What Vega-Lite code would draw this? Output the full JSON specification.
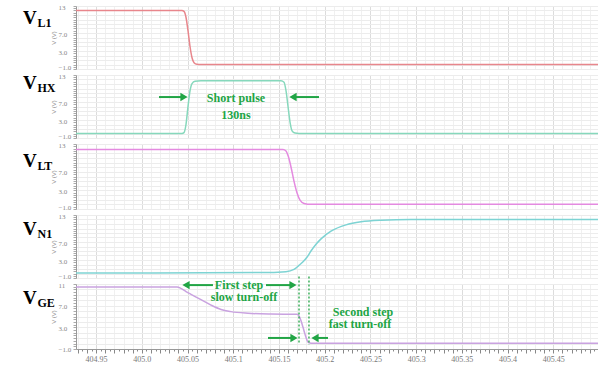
{
  "$schema": "https://vega.github.io/schema/vega-lite/v6.json",
  "padding": {"left": 22, "top": 3, "right": 0, "bottom": 0},
  "bounds": "flush",
  "spacing": 6,
  "background": "white",
  "config": {"view": {"stroke": null}},
  "resolve": {"scale": {"y": "independent"}, "axis": {"x": "independent", "y": "independent"}},
  "datasets": {
    "traces": [
      {"s": "VL1", "t": 404.928, "v": 12}, {"s": "VL1", "t": 405.0439, "v": 12}, {"s": "VL1", "t": 405.0461, "v": 11.8}, {"s": "VL1", "t": 405.0483, "v": 10.5}, {"s": "VL1", "t": 405.0505, "v": 7.5}, {"s": "VL1", "t": 405.0527, "v": 4.0}, {"s": "VL1", "t": 405.0549, "v": 1.5}, {"s": "VL1", "t": 405.0571, "v": 0.4}, {"s": "VL1", "t": 405.0603, "v": 0.05}, {"s": "VL1", "t": 405.0647, "v": 0}, {"s": "VL1", "t": 405.5, "v": 0},
      {"s": "VHX", "t": 404.928, "v": 0}, {"s": "VHX", "t": 405.0439, "v": 0}, {"s": "VHX", "t": 405.0461, "v": 0.2}, {"s": "VHX", "t": 405.0483, "v": 2}, {"s": "VHX", "t": 405.0505, "v": 6}, {"s": "VHX", "t": 405.0527, "v": 9.5}, {"s": "VHX", "t": 405.0549, "v": 11.1}, {"s": "VHX", "t": 405.0582, "v": 11.6}, {"s": "VHX", "t": 405.0647, "v": 11.7}, {"s": "VHX", "t": 405.1522, "v": 11.7}, {"s": "VHX", "t": 405.1555, "v": 11.4}, {"s": "VHX", "t": 405.1577, "v": 9.5}, {"s": "VHX", "t": 405.1599, "v": 6}, {"s": "VHX", "t": 405.1621, "v": 2.5}, {"s": "VHX", "t": 405.1643, "v": 0.6}, {"s": "VHX", "t": 405.1675, "v": 0.1}, {"s": "VHX", "t": 405.1719, "v": 0}, {"s": "VHX", "t": 405.5, "v": 0},
      {"s": "VLT", "t": 404.928, "v": 11.8}, {"s": "VLT", "t": 405.1544, "v": 11.8}, {"s": "VLT", "t": 405.1577, "v": 11.5}, {"s": "VLT", "t": 405.1599, "v": 10.5}, {"s": "VLT", "t": 405.1632, "v": 8}, {"s": "VLT", "t": 405.1664, "v": 5}, {"s": "VLT", "t": 405.1697, "v": 2.5}, {"s": "VLT", "t": 405.173, "v": 0.9}, {"s": "VLT", "t": 405.1774, "v": 0.2}, {"s": "VLT", "t": 405.185, "v": 0}, {"s": "VLT", "t": 405.5, "v": 0},
      {"s": "VN1", "t": 404.928, "v": 0.1}, {"s": "VN1", "t": 405.1303, "v": 0.2}, {"s": "VN1", "t": 405.1576, "v": 0.4}, {"s": "VN1", "t": 405.1664, "v": 0.9}, {"s": "VN1", "t": 405.1719, "v": 1.8}, {"s": "VN1", "t": 405.1763, "v": 2.6}, {"s": "VN1", "t": 405.1806, "v": 3.6}, {"s": "VN1", "t": 405.185, "v": 5.0}, {"s": "VN1", "t": 405.1905, "v": 6.5}, {"s": "VN1", "t": 405.196, "v": 7.7}, {"s": "VN1", "t": 405.2069, "v": 9.4}, {"s": "VN1", "t": 405.2233, "v": 10.8}, {"s": "VN1", "t": 405.2397, "v": 11.5}, {"s": "VN1", "t": 405.2616, "v": 11.85}, {"s": "VN1", "t": 405.2944, "v": 12}, {"s": "VN1", "t": 405.5, "v": 12},
      {"s": "VGE", "t": 404.928, "v": 10.45}, {"s": "VGE", "t": 405.0385, "v": 10.45}, {"s": "VGE", "t": 405.0428, "v": 10.2}, {"s": "VGE", "t": 405.0483, "v": 9.6}, {"s": "VGE", "t": 405.0538, "v": 9.1}, {"s": "VGE", "t": 405.0647, "v": 8.1}, {"s": "VGE", "t": 405.0757, "v": 7.1}, {"s": "VGE", "t": 405.0866, "v": 6.3}, {"s": "VGE", "t": 405.0975, "v": 5.9}, {"s": "VGE", "t": 405.1161, "v": 5.6}, {"s": "VGE", "t": 405.1413, "v": 5.45}, {"s": "VGE", "t": 405.1697, "v": 5.4}, {"s": "VGE", "t": 405.1719, "v": 5.1}, {"s": "VGE", "t": 405.1741, "v": 4.2}, {"s": "VGE", "t": 405.1763, "v": 3.0}, {"s": "VGE", "t": 405.1785, "v": 1.7}, {"s": "VGE", "t": 405.1807, "v": 0.6}, {"s": "VGE", "t": 405.1828, "v": 0.15}, {"s": "VGE", "t": 405.1872, "v": 0.05}, {"s": "VGE", "t": 405.5, "v": 0.05}
    ],
    "labels": [
      {"p": "VL1", "main": "V", "sub": "L1", "t": 404.87, "v": 9.0},
      {"p": "VHX", "main": "V", "sub": "HX", "t": 404.87, "v": 9.9},
      {"p": "VLT", "main": "V", "sub": "LT", "t": 404.87, "v": 8.1},
      {"p": "VN1", "main": "V", "sub": "N1", "t": 404.87, "v": 8.6},
      {"p": "VGE", "main": "V", "sub": "GE", "t": 404.87, "v": 7.3}
    ],
    "notes": [
      {"p": "VHX", "t": 405.103, "v": 7.9, "txt": "Short pulse"},
      {"p": "VHX", "t": 405.103, "v": 4.1, "txt": "130ns"},
      {"p": "VGE", "t": 405.1063, "v": 10.85, "txt": "First step"},
      {"p": "VGE", "t": 405.1117, "v": 8.55, "txt": "slow turn-off"},
      {"p": "VGE", "t": 405.2419, "v": 5.9, "txt": "Second step"},
      {"p": "VGE", "t": 405.2386, "v": 3.6, "txt": "fast turn-off"}
    ],
    "arrows": [
      {"p": "VHX", "tt": 405.0188, "t": 405.0461, "v": 8.1, "dir": "right"},
      {"p": "VHX", "tt": 405.1938, "t": 405.1653, "v": 8.1, "dir": "left"},
      {"p": "VGE", "tt": 405.0778, "t": 405.0483, "v": 10.8, "dir": "left"},
      {"p": "VGE", "tt": 405.1358, "t": 405.1653, "v": 10.8, "dir": "right"},
      {"p": "VGE", "tt": 405.138, "t": 405.1664, "v": 1.04, "dir": "right"},
      {"p": "VGE", "tt": 405.2036, "t": 405.1894, "v": 1.04, "dir": "left"}
    ],
    "guides": [
      {"p": "VGE", "t": 405.1719, "v": 12.4, "v2": 0},
      {"p": "VGE", "t": 405.1828, "v": 12.4, "v2": -0.2}
    ]
  },
  "vconcat": [
    {
      "width": 523, "height": 63,
      "encoding": {
        "x": {"field": "t", "type": "quantitative", "scale": {"domain": [404.928, 405.5], "nice": false, "zero": false},
              "axis": {"tickCount": 115, "title": null, "labels": false, "ticks": false, "domain": false, "grid": true,
                       "gridColor": {"condition": {"test": "round(datum.value*200) % 10 == 0", "value": "#dcdcdc"}, "value": "#f0f0f0"},
                       "gridOpacity": {"condition": {"test": "round(datum.value*200) % 2 == 0", "value": 1}, "value": 0}}},
        "y": {"field": "v", "type": "quantitative", "scale": {"domain": [-1, 13], "nice": false, "zero": false},
              "axis": {"values": [-1,-0.5,0,0.5,1,1.5,2,2.5,3,3.5,4,4.5,5,5.5,6,6.5,7,7.5,8,8.5,9,9.5,10,10.5,11,11.5,12,12.5,13],
                       "title": "V (V)", "titleFontSize": 6, "titleColor": "#888", "titleFontWeight": "normal", "titlePadding": 2, "titleFont": "Liberation Sans",
                       "labelExpr": "datum.value == 13 ? '13' : (datum.value == -1 || datum.value == 3 || datum.value == 7 ? format(datum.value, '.1f') : '')",
                       "labelFont": "Liberation Serif", "labelFontSize": 7, "labelColor": "#888", "labelAlign": "left", "labelPadding": 15, "labelOverlap": false,
                       "labelOffset": {"condition": {"test": "datum.value == -1", "value": -1.5}, "value": 1},
                       "tickSize": 3, "tickColor": "#aaa", "domainColor": "#999", "grid": true, "gridColor": "#ececec",
                       "gridOpacity": {"condition": {"test": "datum.value % 1 != 0", "value": 0}, "value": 1}}}
      },
      "layer": [
        {"data": {"name": "traces"}, "transform": [{"filter": "datum.s == 'VL1'"}], "mark": {"type": "line", "color": "#e8868c", "strokeWidth": 1.5, "interpolate": "monotone"}},
        {"data": {"name": "labels"}, "transform": [{"filter": "datum.p == 'VL1'"}], "mark": {"type": "text", "align": "left", "baseline": "alphabetic", "font": "Liberation Serif", "fontWeight": "bold", "fontSize": 19, "color": "black"}, "encoding": {"text": {"field": "main"}}},
        {"data": {"name": "labels"}, "transform": [{"filter": "datum.p == 'VL1'"}], "mark": {"type": "text", "align": "left", "baseline": "alphabetic", "font": "Liberation Serif", "fontWeight": "bold", "fontSize": 12, "color": "black", "dx": 14.5, "dy": 3}, "encoding": {"text": {"field": "sub"}}}
      ]
    },
    {
      "width": 523, "height": 63,
      "encoding": {
        "x": {"field": "t", "type": "quantitative", "scale": {"domain": [404.928, 405.5], "nice": false, "zero": false},
              "axis": {"tickCount": 115, "title": null, "labels": false, "ticks": false, "domain": false, "grid": true,
                       "gridColor": {"condition": {"test": "round(datum.value*200) % 10 == 0", "value": "#dcdcdc"}, "value": "#f0f0f0"},
                       "gridOpacity": {"condition": {"test": "round(datum.value*200) % 2 == 0", "value": 1}, "value": 0}}},
        "y": {"field": "v", "type": "quantitative", "scale": {"domain": [-1, 13], "nice": false, "zero": false},
              "axis": {"values": [-1,-0.5,0,0.5,1,1.5,2,2.5,3,3.5,4,4.5,5,5.5,6,6.5,7,7.5,8,8.5,9,9.5,10,10.5,11,11.5,12,12.5,13],
                       "title": "V (V)", "titleFontSize": 6, "titleColor": "#888", "titleFontWeight": "normal", "titlePadding": 2, "titleFont": "Liberation Sans",
                       "labelExpr": "datum.value == 13 ? '13' : (datum.value == -1 || datum.value == 3 || datum.value == 7 ? format(datum.value, '.1f') : '')",
                       "labelFont": "Liberation Serif", "labelFontSize": 7, "labelColor": "#888", "labelAlign": "left", "labelPadding": 15, "labelOverlap": false,
                       "labelOffset": {"condition": {"test": "datum.value == -1", "value": -1.5}, "value": 1},
                       "tickSize": 3, "tickColor": "#aaa", "domainColor": "#999", "grid": true, "gridColor": "#ececec",
                       "gridOpacity": {"condition": {"test": "datum.value % 1 != 0", "value": 0}, "value": 1}}}
      },
      "layer": [
        {"data": {"name": "traces"}, "transform": [{"filter": "datum.s == 'VHX'"}], "mark": {"type": "line", "color": "#86d8bc", "strokeWidth": 1.5, "interpolate": "monotone"}},
        {"data": {"name": "labels"}, "transform": [{"filter": "datum.p == 'VHX'"}], "mark": {"type": "text", "align": "left", "baseline": "alphabetic", "font": "Liberation Serif", "fontWeight": "bold", "fontSize": 19, "color": "black"}, "encoding": {"text": {"field": "main"}}},
        {"data": {"name": "labels"}, "transform": [{"filter": "datum.p == 'VHX'"}], "mark": {"type": "text", "align": "left", "baseline": "alphabetic", "font": "Liberation Serif", "fontWeight": "bold", "fontSize": 12, "color": "black", "dx": 14.5, "dy": 3}, "encoding": {"text": {"field": "sub"}}},
        {"data": {"name": "arrows"}, "transform": [{"filter": "datum.p == 'VHX'"}], "mark": {"type": "rule", "color": "#21a545", "strokeWidth": 2}, "encoding": {"x2": {"field": "tt"}}},
        {"data": {"name": "arrows"}, "transform": [{"filter": "datum.p == 'VHX'"}], "mark": {"type": "point", "filled": true, "color": "#21a545", "opacity": 1, "size": 70},
         "encoding": {"shape": {"field": "dir", "type": "nominal", "scale": {"domain": ["left", "right"], "range": ["triangle-left", "triangle-right"]}, "legend": null}}},
        {"data": {"name": "notes"}, "transform": [{"filter": "datum.p == 'VHX'"}], "mark": {"type": "text", "align": "center", "baseline": "middle", "font": "Liberation Serif", "fontWeight": "bold", "fontSize": 12, "color": "#21a545"}, "encoding": {"text": {"field": "txt"}}}
      ]
    },
    {
      "width": 523, "height": 65,
      "encoding": {
        "x": {"field": "t", "type": "quantitative", "scale": {"domain": [404.928, 405.5], "nice": false, "zero": false},
              "axis": {"tickCount": 115, "title": null, "labels": false, "ticks": false, "domain": false, "grid": true,
                       "gridColor": {"condition": {"test": "round(datum.value*200) % 10 == 0", "value": "#dcdcdc"}, "value": "#f0f0f0"},
                       "gridOpacity": {"condition": {"test": "round(datum.value*200) % 2 == 0", "value": 1}, "value": 0}}},
        "y": {"field": "v", "type": "quantitative", "scale": {"domain": [-1, 13], "nice": false, "zero": false},
              "axis": {"values": [-1,-0.5,0,0.5,1,1.5,2,2.5,3,3.5,4,4.5,5,5.5,6,6.5,7,7.5,8,8.5,9,9.5,10,10.5,11,11.5,12,12.5,13],
                       "title": "V (V)", "titleFontSize": 6, "titleColor": "#888", "titleFontWeight": "normal", "titlePadding": 2, "titleFont": "Liberation Sans",
                       "labelExpr": "datum.value == 13 ? '13' : (datum.value == -1 || datum.value == 3 || datum.value == 7 ? format(datum.value, '.1f') : '')",
                       "labelFont": "Liberation Serif", "labelFontSize": 7, "labelColor": "#888", "labelAlign": "left", "labelPadding": 15, "labelOverlap": false,
                       "labelOffset": {"condition": {"test": "datum.value == -1", "value": -1.5}, "value": 1},
                       "tickSize": 3, "tickColor": "#aaa", "domainColor": "#999", "grid": true, "gridColor": "#ececec",
                       "gridOpacity": {"condition": {"test": "datum.value % 1 != 0", "value": 0}, "value": 1}}}
      },
      "layer": [
        {"data": {"name": "traces"}, "transform": [{"filter": "datum.s == 'VLT'"}], "mark": {"type": "line", "color": "#e48ae0", "strokeWidth": 1.5, "interpolate": "monotone"}},
        {"data": {"name": "labels"}, "transform": [{"filter": "datum.p == 'VLT'"}], "mark": {"type": "text", "align": "left", "baseline": "alphabetic", "font": "Liberation Serif", "fontWeight": "bold", "fontSize": 19, "color": "black"}, "encoding": {"text": {"field": "main"}}},
        {"data": {"name": "labels"}, "transform": [{"filter": "datum.p == 'VLT'"}], "mark": {"type": "text", "align": "left", "baseline": "alphabetic", "font": "Liberation Serif", "fontWeight": "bold", "fontSize": 12, "color": "black", "dx": 14.5, "dy": 3}, "encoding": {"text": {"field": "sub"}}}
      ]
    },
    {
      "width": 523, "height": 63,
      "encoding": {
        "x": {"field": "t", "type": "quantitative", "scale": {"domain": [404.928, 405.5], "nice": false, "zero": false},
              "axis": {"tickCount": 115, "title": null, "labels": false, "ticks": false, "domain": false, "grid": true,
                       "gridColor": {"condition": {"test": "round(datum.value*200) % 10 == 0", "value": "#dcdcdc"}, "value": "#f0f0f0"},
                       "gridOpacity": {"condition": {"test": "round(datum.value*200) % 2 == 0", "value": 1}, "value": 0}}},
        "y": {"field": "v", "type": "quantitative", "scale": {"domain": [-1, 13], "nice": false, "zero": false},
              "axis": {"values": [-1,-0.5,0,0.5,1,1.5,2,2.5,3,3.5,4,4.5,5,5.5,6,6.5,7,7.5,8,8.5,9,9.5,10,10.5,11,11.5,12,12.5,13],
                       "title": "V (V)", "titleFontSize": 6, "titleColor": "#888", "titleFontWeight": "normal", "titlePadding": 2, "titleFont": "Liberation Sans",
                       "labelExpr": "datum.value == 13 ? '13' : (datum.value == -1 || datum.value == 3 || datum.value == 7 ? format(datum.value, '.1f') : '')",
                       "labelFont": "Liberation Serif", "labelFontSize": 7, "labelColor": "#888", "labelAlign": "left", "labelPadding": 15, "labelOverlap": false,
                       "labelOffset": {"condition": {"test": "datum.value == -1", "value": -1.5}, "value": 1},
                       "tickSize": 3, "tickColor": "#aaa", "domainColor": "#999", "grid": true, "gridColor": "#ececec",
                       "gridOpacity": {"condition": {"test": "datum.value % 1 != 0", "value": 0}, "value": 1}}}
      },
      "layer": [
        {"data": {"name": "traces"}, "transform": [{"filter": "datum.s == 'VN1'"}], "mark": {"type": "line", "color": "#7dd3d3", "strokeWidth": 1.5, "interpolate": "monotone"}},
        {"data": {"name": "labels"}, "transform": [{"filter": "datum.p == 'VN1'"}], "mark": {"type": "text", "align": "left", "baseline": "alphabetic", "font": "Liberation Serif", "fontWeight": "bold", "fontSize": 19, "color": "black"}, "encoding": {"text": {"field": "main"}}},
        {"data": {"name": "labels"}, "transform": [{"filter": "datum.p == 'VN1'"}], "mark": {"type": "text", "align": "left", "baseline": "alphabetic", "font": "Liberation Serif", "fontWeight": "bold", "fontSize": 12, "color": "black", "dx": 14.5, "dy": 3}, "encoding": {"text": {"field": "sub"}}}
      ]
    },
    {
      "width": 523, "height": 65,
      "encoding": {
        "x": {"field": "t", "type": "quantitative", "scale": {"domain": [404.928, 405.5], "nice": false, "zero": false},
              "axis": {"tickCount": 115, "title": null, "orient": "bottom",
                       "labelExpr": "round(datum.value*200) % 10 == 0 && datum.value < 405.47 ? (round(datum.value*200) % 20 == 0 ? format(datum.value, '.1f') : format(datum.value, '.2f')) : ''",
                       "labelFont": "Liberation Serif", "labelFontSize": 8, "labelColor": "#777", "labelOverlap": false, "labelFlush": false, "labelPadding": 2,
                       "tickSize": {"condition": {"test": "round(datum.value*200) % 2 == 0", "value": 4}, "value": 2}, "tickColor": "#888", "domainColor": "#999",
                       "grid": true,
                       "gridColor": {"condition": {"test": "round(datum.value*200) % 10 == 0", "value": "#dcdcdc"}, "value": "#f0f0f0"},
                       "gridOpacity": {"condition": {"test": "round(datum.value*200) % 2 == 0", "value": 1}, "value": 0}}},
        "y": {"field": "v", "type": "quantitative", "scale": {"domain": [-1, 11], "nice": false, "zero": false},
              "axis": {"values": [-1,-0.5,0,0.5,1,1.5,2,2.5,3,3.5,4,4.5,5,5.5,6,6.5,7,7.5,8,8.5,9,9.5,10,10.5,11],
                       "title": "V (V)", "titleFontSize": 6, "titleColor": "#888", "titleFontWeight": "normal", "titlePadding": 2, "titleFont": "Liberation Sans",
                       "labelExpr": "datum.value == 11 ? '11' : (datum.value == -1 || datum.value == 3 || datum.value == 7 ? format(datum.value, '.1f') : '')",
                       "labelFont": "Liberation Serif", "labelFontSize": 7, "labelColor": "#888", "labelAlign": "left", "labelPadding": 15, "labelOverlap": false,
                       "labelOffset": {"condition": {"test": "datum.value == -1", "value": 0}, "value": 1},
                       "tickSize": 3, "tickColor": "#aaa", "domainColor": "#999", "grid": true, "gridColor": "#ececec",
                       "gridOpacity": {"condition": {"test": "datum.value % 1 != 0", "value": 0}, "value": 1}}}
      },
      "layer": [
        {"data": {"name": "traces"}, "transform": [{"filter": "datum.s == 'VGE'"}], "mark": {"type": "line", "color": "#c9a2e0", "strokeWidth": 1.5, "interpolate": "monotone"}},
        {"data": {"name": "labels"}, "transform": [{"filter": "datum.p == 'VGE'"}], "mark": {"type": "text", "align": "left", "baseline": "alphabetic", "font": "Liberation Serif", "fontWeight": "bold", "fontSize": 19, "color": "black"}, "encoding": {"text": {"field": "main"}}},
        {"data": {"name": "labels"}, "transform": [{"filter": "datum.p == 'VGE'"}], "mark": {"type": "text", "align": "left", "baseline": "alphabetic", "font": "Liberation Serif", "fontWeight": "bold", "fontSize": 12, "color": "black", "dx": 14.5, "dy": 3}, "encoding": {"text": {"field": "sub"}}},
        {"data": {"name": "guides"}, "mark": {"type": "rule", "color": "#21a545", "strokeWidth": 1.3, "strokeDash": [2, 2]}, "encoding": {"y2": {"field": "v2"}}},
        {"data": {"name": "arrows"}, "transform": [{"filter": "datum.p == 'VGE'"}], "mark": {"type": "rule", "color": "#21a545", "strokeWidth": 2}, "encoding": {"x2": {"field": "tt"}}},
        {"data": {"name": "arrows"}, "transform": [{"filter": "datum.p == 'VGE'"}], "mark": {"type": "point", "filled": true, "color": "#21a545", "opacity": 1, "size": 70},
         "encoding": {"shape": {"field": "dir", "type": "nominal", "scale": {"domain": ["left", "right"], "range": ["triangle-left", "triangle-right"]}, "legend": null}}},
        {"data": {"name": "notes"}, "transform": [{"filter": "datum.p == 'VGE'"}], "mark": {"type": "text", "align": "center", "baseline": "middle", "font": "Liberation Serif", "fontWeight": "bold", "fontSize": 12, "color": "#21a545"}, "encoding": {"text": {"field": "txt"}}}
      ]
    }
  ]
}
